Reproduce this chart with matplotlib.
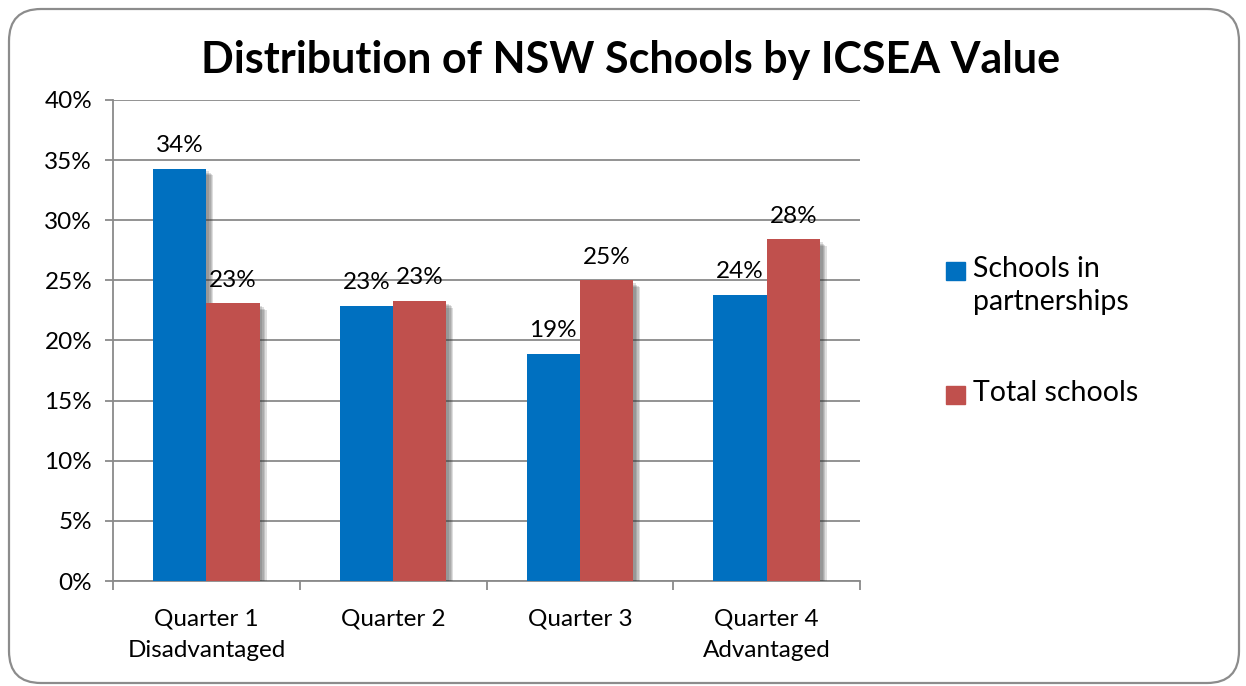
import matplotlib.pyplot as plt
import matplotlib.patheffects as pe
from matplotlib.patches import FancyBboxPatch, Rectangle
from matplotlib.ticker import FuncFormatter
import numpy as np

plt.rcParams['font.family'] = ['Lato', 'DejaVu Sans']

# дані з графіка
categories = ['Quarter 1\nDisadvantaged', 'Quarter 2', 'Quarter 3', 'Quarter 4\nAdvantaged']
partnerships = [34.3, 22.9, 18.9, 23.8]
total = [23.1, 23.3, 25.0, 28.4]
series_names = ['Schools in\npartnerships', 'Total schools']
colors = ['#0070C0', '#C0504D']

W, H = 1246, 686
fig = plt.figure(figsize=(W / 100, H / 100), dpi=100)

# рамка з заокругленими кутами (в пікселях)
frame = FancyBboxPatch((9, 3), 1230, 674, boxstyle='round,pad=0,rounding_size=32',
                       transform=None, facecolor='white', edgecolor='#8c8c8c', lw=1.6, zorder=-10)
fig.patches.append(frame)

ax = fig.add_axes([113 / W, 1 - 581 / H, 747 / W, 481 / H])
ax.set_facecolor('none')

x = np.arange(len(categories))
w = 0.285
# м'яка тінь кількома шарами
shadow = [pe.SimplePatchShadow(offset=(k, -k), shadow_rgbFace='#333333', alpha=0.16) for k in (5, 4, 3, 2)]
shadow.append(pe.Normal())
for i, (vals, c) in enumerate(zip([partnerships, total], colors)):
    bars = ax.bar(x + (i - 0.5) * w, vals, w, color=c, zorder=3, path_effects=shadow)
    for b, v in zip(bars, vals):
        ax.annotate(f'{v:.0f}%', (b.get_x() + b.get_width() / 2, v), xytext=(0, 9),
                    textcoords='offset points', ha='center', va='bottom', fontsize=17.5, zorder=4)

ax.set_xlim(-0.5, 3.5)
ax.set_ylim(0, 40)
ax.set_yticks(range(0, 41, 5))
ax.yaxis.set_major_formatter(FuncFormatter(lambda v, p: f'{v:.0f}%'))
ax.grid(axis='y', color='#8a8a8a', lw=1.3, zorder=0)
ax.set_xticks([-0.5, 0.5, 1.5, 2.5, 3.5])
ax.set_xticklabels([])
ax.set_xticks(x, minor=True)
ax.set_xticklabels(categories, minor=True, fontsize=17.5, linespacing=1.6)
ax.tick_params(axis='x', which='minor', length=0, pad=20)
ax.tick_params(axis='x', which='major', length=6.5, width=1.3, color='#8a8a8a')
ax.tick_params(axis='y', length=6, width=1.3, color='#8a8a8a', labelsize=17.5, pad=9)
for s in ['top', 'right']:
    ax.spines[s].set_visible(False)
for s in ['left', 'bottom']:
    ax.spines[s].set_color('#8a8a8a')
    ax.spines[s].set_linewidth(1.3)

fig.text(631 / W, 1 - 60 / H, 'Distribution of NSW Schools by ICSEA Value',
         ha='center', va='center', fontsize=31, fontweight='bold')

# легенда вручну: квадрат на рівні першого рядка
leg_y = [262, 386]
for name, c, yy in zip(series_names, colors, leg_y):
    fig.patches.append(Rectangle((946, H - yy - 18), 19, 18, transform=None, color=c))
    fig.text(973 / W, 1 - (yy - 6) / H, name, ha='left', va='top', fontsize=20.5, linespacing=1.35)

fig.savefig('out.png', dpi=100)
